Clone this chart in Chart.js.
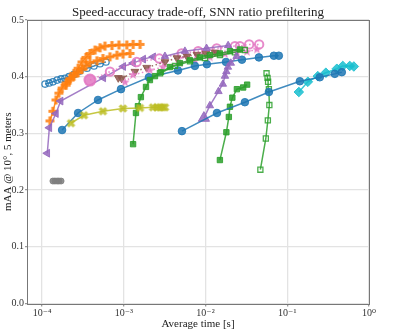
<!DOCTYPE html>
<html><head><meta charset="utf-8">
<script src="https://cdn.jsdelivr.net/npm/chart.js@4/dist/chart.umd.min.js"></script>
<style>html,body{margin:0;padding:0;background:#fff}canvas{display:block}</style>
</head><body>
<canvas id="c" width="400" height="332"></canvas>
<script>
// ---- data ----
const xTickValues = [1e-4, 1e-3, 1e-2, 1e-1, 1];
const xTickLabels = ['10\u207B\u2074', '10\u207B\u00B3', '10\u207B\u00B2', '10\u207B\u00B9', '10\u2070'];
const yTickValues = [0, 0.1, 0.2, 0.3, 0.4, 0.5];

const blueOpenX = [1.09e-4,1.22e-4,1.36e-4,1.53e-4,1.71e-4,1.91e-4,2.14e-4,2.46e-4,2.91e-4,3.55e-4,4.32e-4,5.12e-4,6.06e-4];
const blueOpenY = [.387,.389,.391,.394,.396,.397,.400,.404,.410,.415,.419,.423,.426];

const orange1X = [1.25e-4,1.36e-4,1.48e-4,1.61e-4,1.76e-4,1.97e-4,2.20e-4,2.46e-4,2.76e-4,3.08e-4,3.45e-4,3.86e-4,4.45e-4,5.12e-4,5.89e-4,7.17e-4,8.74e-4,1.09e-3,1.30e-3,1.58e-3];
const orange1Y = [.322,.339,.359,.371,.380,.389,.397,.406,.415,.426,.434,.441,.447,.451,.454,.455,.456,.456,.457,.457];

const orange2X = [1.97e-4,2.20e-4,2.46e-4,2.76e-4,3.08e-4,3.45e-4,3.86e-4,4.70e-4,5.57e-4,6.78e-4,8.26e-4,9.78e-4,1.19e-3];
const orange2Y = [.385,.394,.401,.407,.413,.419,.425,.428,.432,.435,.438,.440,.441];

const purpleLeftX = [1.16e-4,1.23e-4,1.48e-4,1.69e-4,5.62e-4,9.86e-4,1.30e-3,1.73e-3,2.29e-3];
const purpleLeftY = [.265,.310,.335,.357,.398,.418,.424,.431,.435];

const pinkCircX = [3.86e-4,6.78e-4,1.44e-3,2.72e-3,5.10e-3,8.14e-3,1.37e-2,2.29e-2,2.64e-2,3.42e-2,4.53e-2];
const pinkCircY = [.394,.409,.426,.432,.441,.445,.450,.454,.454,.457,.457];

const brownX = [8.57e-4,9.43e-4,1.37e-3,1.91e-3,3.19e-3,4.47e-3,5.93e-3,7.85e-3,1.01e-2,1.30e-2];
const brownY = [.398,.397,.409,.416,.426,.433,.436,.439,.441,.443];

const pinkStarX = [1.035e-3,1.30e-3,2.09e-3,3.01e-3,4.86e-3,7.42e-3,1.13e-2,1.73e-2,2.42e-2,3.21e-2,4.25e-2];
const pinkStarY = [.390,.403,.411,.417,.424,.429,.434,.440,.443,.444,.448];

const greenAX = [1.30e-3,1.41e-3,1.49e-3,1.62e-3,1.87e-3,2.09e-3,2.41e-3,2.85e-3,3.67e-3,4.86e-3,6.45e-3,8.55e-3,1.13e-2,1.50e-2,1.99e-2,2.64e-2];
const greenAY = [.281,.336,.348,.364,.382,.394,.401,.408,.417,.424,.429,.434,.438,.441,.445,.448];

const greenBX = [2.77e-3,4.23e-3,6.45e-3,9.84e-3,1.50e-2,2.29e-2,3.03e-2];
const greenBY = [.406,.419,.427,.433,.438,.443,.447];

const oliveX = [2.26e-4,3.26e-4,5.57e-4,9.78e-4,1.58e-3,2.28e-3,2.55e-3,2.77e-3,3.01e-3,3.19e-3];
const oliveY = [.318,.332,.339,.344,.345,.346,.346,.346,.346,.346];

const blueAX = [1.76e-4,2.76e-4,4.84e-4,9.24e-4,2.03e-3,4.60e-3,7.42e-3,1.04e-2,1.78e-2,2.79e-2,4.50e-2,6.86e-2,7.89e-2];
const blueAY = [.306,.336,.359,.378,.399,.411,.419,.422,.426,.430,.434,.437,.437];

const purpleUpAX = [9.56e-3,1.13e-2,1.44e-2,1.63e-2,1.73e-2,1.80e-2,1.88e-2,2.04e-2,2.40e-2];
const purpleUpAY = [.327,.349,.374,.387,.401,.409,.417,.424,.436];

const purpleUpBX = [3.19e-3,5.60e-3,1.03e-2,1.89e-2];
const purpleUpBY = [.436,.445,.450,.455];

const blueBX = [5.15e-3,1.38e-2,3.03e-2,5.96e-2,0.1426,0.250,0.382,0.465];
const blueBY = [.304,.336,.355,.373,.392,.399,.405,.408];

const greenCX = [1.50e-2,1.80e-2,1.93e-2,1.99e-2,2.13e-2,2.42e-2,2.89e-2,3.23e-2];
const greenCY = [.253,.302,.329,.347,.363,.378,.381,.386];

const greenDX = [4.69e-2,5.47e-2,5.79e-2,6.04e-2,5.96e-2,5.83e-2,5.74e-2,5.58e-2];
const greenDY = [.236,.291,.323,.350,.378,.391,.398,.406];

const cyanX = [0.1386,0.1786,0.2366,0.2965,0.404,0.478,0.582,0.652];
const cyanY = [.373,.391,.401,.407,.414,.419,.419,.418];

const greyX = [1.36e-4,1.44e-4,1.53e-4,1.61e-4,1.71e-4];
const greyY = [.216,.216,.216,.216,.216];

// ---- colours ----
const C = {
  blue:'rgba(31,119,180,0.85)', orange:'rgba(255,127,14,0.85)', green:'rgba(44,160,44,0.85)',
  purple:'rgba(148,103,189,0.85)', brown:'rgba(140,86,75,0.85)', pink:'rgba(227,119,194,0.85)',
  olive:'rgba(188,189,34,0.85)', cyan:'rgba(23,190,207,0.85)', grey:'rgba(127,127,127,0.85)'
};

// ---- marker images ----
function marker(shape, fill, stroke, size, lw) {
  const s = Math.ceil(size + (lw||0) + 2);
  const c = document.createElement('canvas'); c.width = s; c.height = s;
  const g = c.getContext('2d'); g.translate(s/2, s/2);
  const r = size/2; g.beginPath();
  if (shape === 'plus' || shape === 'x') {
    if (shape === 'x') g.rotate(Math.PI/4);
    const a = r*0.36;
    const pts = [[-a,-r],[a,-r],[a,-a],[r,-a],[r,a],[a,a],[a,r],[-a,r],[-a,a],[-r,a],[-r,-a],[-a,-a]];
    pts.forEach((p,i)=> i?g.lineTo(p[0],p[1]):g.moveTo(p[0],p[1]));
    g.closePath();
  } else if (shape === 'star') {
    for (let i=0;i<10;i++){const rr=i%2?r*0.42:r;const an=-Math.PI/2+i*Math.PI/5;
      const px=rr*Math.cos(an), py=rr*Math.sin(an); i?g.lineTo(px,py):g.moveTo(px,py);} g.closePath();
  }
  if (fill) { g.fillStyle = fill; g.fill(); }
  if (stroke) { g.strokeStyle = stroke; g.lineWidth = lw; g.stroke(); }
  return c;
}
const plusImg = marker('plus', C.orange, null, 9);
const xImg = marker('x', C.olive, null, 9);
const starImg = marker('star', C.pink, null, 10);

function pts(xs, ys){ return xs.map((x,i)=>({x:x, y:ys[i]})); }
function ds(xs, ys, color, o) {
  return Object.assign({
    data: pts(xs, ys), showLine: true, borderColor: color, backgroundColor: color,
    borderWidth: 1.5, pointRadius: 3.8, pointBorderWidth: 1, pointBorderColor: color,
    pointBackgroundColor: color, pointStyle: 'circle'
  }, o || {});
}

const datasets = [
  ds(greyX, greyY, C.grey, {showLine:false, pointRadius:3}),
  ds(blueBX, blueBY, C.blue),
  ds(greenDX, greenDY, C.green, {pointStyle:'rect', pointRadius:3.6, pointBackgroundColor:'rgba(255,255,255,0)', pointBorderWidth:1.3}),
  ds(greenCX, greenCY, C.green, {pointStyle:'rect', pointRadius:3.8}),
  ds(cyanX, cyanY, C.cyan, {pointStyle:'rectRot', pointRadius:4.8}),
  ds(purpleUpAX, purpleUpAY, C.purple, {pointStyle:'triangle', pointRadius:purpleUpAX.map((v,i)=>i===0?6.5:4.3)}),
  ds(oliveX, oliveY, C.olive, {pointStyle: xImg}),
  ds(greenAX, greenAY, C.green, {pointStyle:'rect', pointRadius:3.8}),
  ds(greenBX, greenBY, C.green, {pointStyle:'rect', pointRadius:3.6, pointBackgroundColor:'rgba(255,255,255,0)', pointBorderWidth:1.3}),
  ds(blueAX, blueAY, C.blue),
  ds(purpleUpBX, purpleUpBY, C.purple, {pointStyle:'triangle', pointRadius:4.3}),
  ds(pinkStarX, pinkStarY, C.pink, {pointStyle: starImg, borderDash:[1.5,2.5]}),
  ds(brownX, brownY, C.brown, {pointStyle:'triangle', rotation:180, pointRadius:4.5, borderDash:[1.5,2.5]}),
  ds(pinkCircX, pinkCircY, C.pink, {borderDash:[1.5,2.5], pointRadius:pinkCircX.map((v,i)=>i===0?5.5:4.2),
     pointBackgroundColor:pinkCircX.map((v,i)=>i===0?C.pink:'rgba(255,255,255,0)'), pointBorderWidth:2}),
  ds(purpleLeftX, purpleLeftY, C.purple, {pointStyle:'triangle', rotation:270, pointRadius:4.5}),
  ds(orange2X, orange2Y, C.orange, {pointStyle: plusImg}),
  ds(orange1X, orange1Y, C.orange, {pointStyle: plusImg}),
  ds(blueOpenX, blueOpenY, C.blue, {pointRadius:3.2, pointBackgroundColor:'rgba(255,255,255,0)', pointBorderWidth:1.3})
];

const SERIF = "'Liberation Serif', 'DejaVu Serif', serif";
const framePlugin = {
  id: 'frame',
  afterDraw(chart) {
    const a = chart.chartArea, g = chart.ctx;
    g.save();
    g.strokeStyle = '#777'; g.lineWidth = 1;
    g.strokeRect(Math.round(a.left)+0.5, Math.round(a.top)+0.5, Math.round(a.right-a.left), Math.round(a.bottom-a.top));
    g.fillStyle = '#222'; g.font = '13px ' + SERIF; g.textAlign = 'center'; g.textBaseline = 'alphabetic';
    g.fillText('Speed-accuracy trade-off, SNN ratio prefiltering', (a.left+a.right)/2, 16);
    g.restore();
  }
};

new Chart(document.getElementById('c'), {
  type: 'scatter',
  data: { datasets },
  options: {
    responsive: false, animation: false, events: [],
    layout: { padding: { top: 20, right: 31, left: 0, bottom: 0 } },
    plugins: { legend: { display: false }, tooltip: { enabled: false }, title: { display: false } },
    scales: {
      x: {
        type: 'logarithmic', min: 6.55e-5, max: 1,
        afterBuildTicks: s => { s.ticks = xTickValues.map(v => ({ value: v })); },
        afterFit: s => { s.height = 28.5; },
        ticks: { callback: (v) => { const i = xTickValues.findIndex(t => Math.abs(Math.log10(t) - Math.log10(v)) < 1e-6); return i >= 0 ? xTickLabels[i] : ''; },
                 font: { family: SERIF, size: 10 }, color: '#333', padding: 1, maxRotation: 0, autoSkip: false },
        grid: { color: '#e3e3e3', lineWidth: 1.3, tickLength: 3, tickColor: '#999' },
        border: { display: false },
        title: { display: true, text: 'Average time [s]', font: { family: SERIF, size: 11 }, color: '#222', padding: { top: 0, bottom: 1 } }
      },
      y: {
        min: 0, max: 0.5,
        afterBuildTicks: s => { s.ticks = yTickValues.map(v => ({ value: v })); },
        afterFit: s => { s.width = 27; },
        ticks: { callback: v => Number(v).toFixed(1), font: { family: SERIF, size: 10 }, color: '#333', padding: 1 },
        grid: { color: '#e3e3e3', lineWidth: 1.3, tickLength: 2, tickColor: '#999' },
        border: { display: false },
        title: { display: true, text: 'mAA @ 10\u00B0, 5 meters', font: { family: SERIF, size: 11 }, color: '#222', padding: { top: 2, bottom: 0 } }
      }
    }
  },
  plugins: [framePlugin]
});
</script>
</body></html>
